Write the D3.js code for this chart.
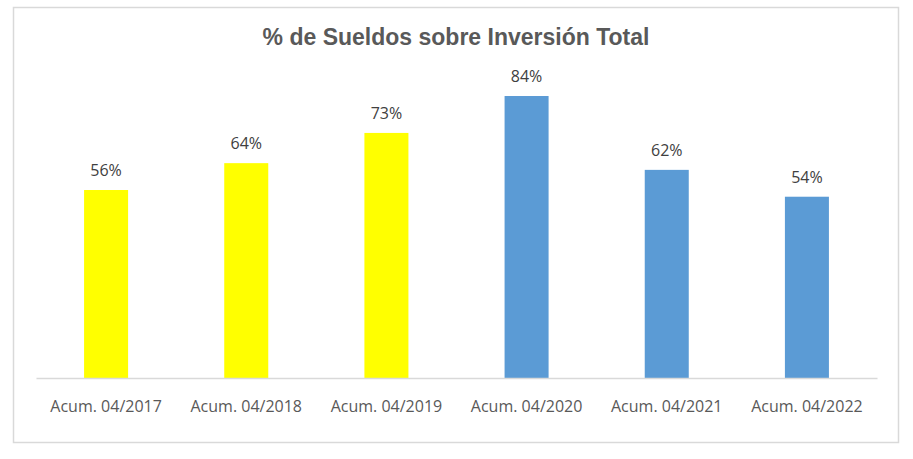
<!DOCTYPE html>
<html>
<head>
<meta charset="utf-8">
<script src="https://cdn.jsdelivr.net/npm/d3@7"></script>
<style>
  body { margin: 0; background: #fff; }
</style>
</head>
<body>
<div id="chart"></div>
<script>
// data
const categories = ["Acum. 04/2017", "Acum. 04/2018", "Acum. 04/2019", "Acum. 04/2020", "Acum. 04/2021", "Acum. 04/2022"];
const values = [56, 64, 73, 84, 62, 54];
const barColors = ["#ffff00", "#ffff00", "#ffff00", "#5b9bd5", "#5b9bd5", "#5b9bd5"];
const titleText = "% de Sueldos sobre Inversión Total";

const W = 913, H = 459;
const plot = { left: 36, right: 877, top: 42, bottom: 378 };

const svg = d3.select("#chart")
    .append("svg")
    .attr("width", W)
    .attr("height", H);

// chart frame
svg.append("rect")
    .attr("x", 13.5)
    .attr("y", 7.5)
    .attr("width", 885)
    .attr("height", 435)
    .attr("fill", "#fff")
    .attr("stroke", "#d9d9d9")
    .attr("stroke-width", 1.5);

svg.append("text")
    .attr("x", 456)
    .attr("y", 45)
    .attr("text-anchor", "middle")
    .style("font-family", "'Liberation Sans', Arial, sans-serif")
    .style("font-size", "23px")
    .style("font-weight", "bold")
    .style("fill", "#595959")
    .text(titleText);

const x = d3.scaleBand()
    .domain(categories)
    .range([plot.left, plot.right])
    .padding(0);

const y = d3.scaleLinear()
    .domain([0, 100])
    .range([plot.bottom, plot.bottom - 335.7]);

const barW = x.bandwidth() * 0.314;

svg.selectAll("rect.bar")
    .data(values)
    .enter()
    .append("rect")
    .attr("class", "bar")
    .attr("x", (d, i) => x(categories[i]) + x.bandwidth() / 2 - barW / 2)
    .attr("y", d => y(d))
    .attr("width", barW)
    .attr("height", d => y(0) - y(d))
    .attr("fill", (d, i) => barColors[i]);

// value labels
svg.selectAll("text.val")
    .data(values)
    .enter()
    .append("text")
    .attr("class", "val")
    .attr("x", (d, i) => x(categories[i]) + x.bandwidth() / 2)
    .attr("y", d => y(d) - 14)
    .attr("text-anchor", "middle")
    .style("font-family", "'Open Sans', sans-serif")
    .style("font-size", "16px")
    .style("fill", "#404040")
    .text(d => d + "%");

// x axis
const xAxis = svg.append("g")
    .attr("transform", `translate(0,${plot.bottom})`)
    .call(d3.axisBottom(x).tickSize(0).tickPadding(23));

xAxis.select(".domain").attr("stroke", "#d9d9d9").attr("stroke-width", 1.5);
xAxis.selectAll("text")
    .style("font-family", "'Open Sans', sans-serif")
    .style("font-size", "16px")
    .style("fill", "#595959");
</script>
</body>
</html>
